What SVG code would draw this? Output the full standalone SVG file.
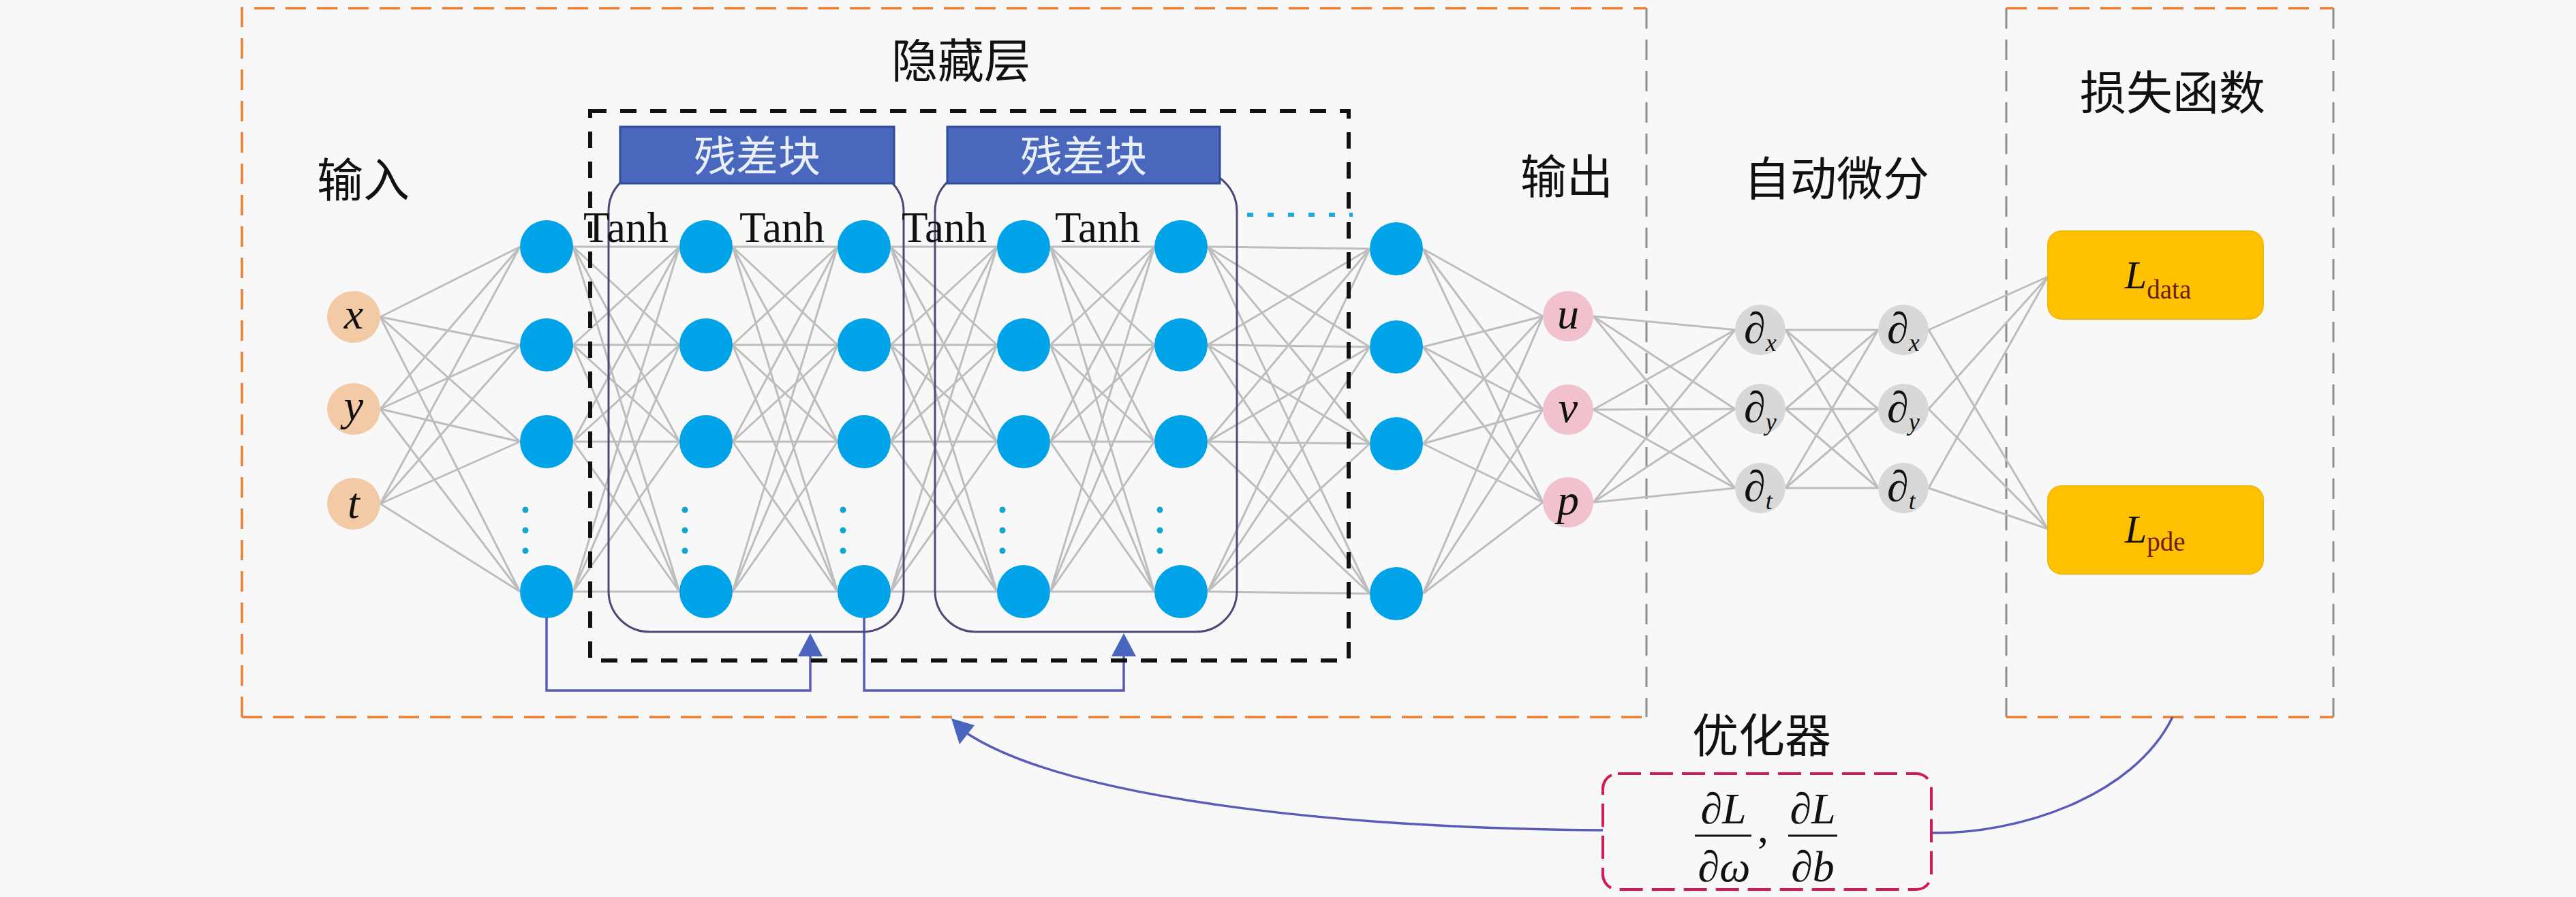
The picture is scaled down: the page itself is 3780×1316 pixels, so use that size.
<svg xmlns="http://www.w3.org/2000/svg" width="3780" height="1316" viewBox="0 0 3780 1316">
<defs>
<style>
.lnk{fill:none;stroke:#BDBDBD;stroke-width:3}
.hn{fill:#00A3E8}
.inn{fill:#F2CAA5}
.outn{fill:#F1C1CD}
.dn{fill:#D8D8D8}
.cjk{font-family:"Liberation Serif","Noto Sans CJK SC",serif;font-size:68px;fill:#111;text-anchor:middle}
.ser{font-family:"Liberation Serif",serif;fill:#111}
.it{font-style:italic}
.tanh{font-family:"Liberation Serif",serif;font-size:63px;fill:#111}
.var{font-family:"Liberation Serif",serif;font-style:italic;font-size:64px;fill:#111;text-anchor:middle}
.dot{fill:#12A6CC}
.skip{fill:none;stroke:#5A5AB8;stroke-width:3.5}
.ah{fill:#4A65BD}
.frame{fill:none;stroke:#4A4A78;stroke-width:3}
.rb{fill:#4A67BE;stroke:#2E4B9C;stroke-width:3}
.rbt{font-family:"Liberation Serif","Noto Sans CJK SC",serif;font-size:62px;fill:#EAF0FA;text-anchor:middle}
.lbox{fill:#FFC000;stroke:#F5B800;stroke-width:2}
.odash{fill:none;stroke:#ED7D31;stroke-width:3.5;stroke-dasharray:30 16}
.gdash{fill:none;stroke:#8E8E8E;stroke-width:3;stroke-dasharray:30 16}
</style>
</defs>
<rect x="0" y="0" width="3780" height="1316" fill="#F8F8F8"/>

<g id="regions">
<path class="odash" d="M355 1052V12H2416"/>
<path class="odash" d="M355 1052H2416"/>
<path class="gdash" d="M2416 12V1052"/>
<path class="odash" d="M2944 12H3424M2944 1052H3424"/>
<path class="gdash" d="M2944 12V1052M3424 12V1052"/>
</g>

<g id="connectors">
<path class="lnk" d="M558 465L763 362M558 465L763 506M558 465L763 648M558 465L763 868M558 600L763 362M558 600L763 506M558 600L763 648M558 600L763 868M558 739L763 362M558 739L763 506M558 739L763 648M558 739L763 868"/>
<path class="lnk" d="M841 362L997 362M841 362L997 506M841 362L997 648M841 362L997 868M841 506L997 362M841 506L997 506M841 506L997 648M841 506L997 868M841 648L997 362M841 648L997 506M841 648L997 648M841 648L997 868M841 868L997 362M841 868L997 506M841 868L997 648M841 868L997 868"/>
<path class="lnk" d="M1075 362L1229 362M1075 362L1229 506M1075 362L1229 648M1075 362L1229 868M1075 506L1229 362M1075 506L1229 506M1075 506L1229 648M1075 506L1229 868M1075 648L1229 362M1075 648L1229 506M1075 648L1229 648M1075 648L1229 868M1075 868L1229 362M1075 868L1229 506M1075 868L1229 648M1075 868L1229 868"/>
<path class="lnk" d="M1307 362L1463 362M1307 362L1463 506M1307 362L1463 648M1307 362L1463 868M1307 506L1463 362M1307 506L1463 506M1307 506L1463 648M1307 506L1463 868M1307 648L1463 362M1307 648L1463 506M1307 648L1463 648M1307 648L1463 868M1307 868L1463 362M1307 868L1463 506M1307 868L1463 648M1307 868L1463 868"/>
<path class="lnk" d="M1541 362L1694 362M1541 362L1694 506M1541 362L1694 648M1541 362L1694 868M1541 506L1694 362M1541 506L1694 506M1541 506L1694 648M1541 506L1694 868M1541 648L1694 362M1541 648L1694 506M1541 648L1694 648M1541 648L1694 868M1541 868L1694 362M1541 868L1694 506M1541 868L1694 648M1541 868L1694 868"/>
<path class="lnk" d="M1772 362L2010 365M1772 362L2010 509M1772 362L2010 651M1772 362L2010 871M1772 506L2010 365M1772 506L2010 509M1772 506L2010 651M1772 506L2010 871M1772 648L2010 365M1772 648L2010 509M1772 648L2010 651M1772 648L2010 871M1772 868L2010 365M1772 868L2010 509M1772 868L2010 651M1772 868L2010 871"/>
<path class="lnk" d="M2088 365L2264 464M2088 365L2264 601M2088 365L2264 737M2088 509L2264 464M2088 509L2264 601M2088 509L2264 737M2088 651L2264 464M2088 651L2264 601M2088 651L2264 737M2088 871L2264 464M2088 871L2264 601M2088 871L2264 737"/>
<path class="lnk" d="M2338 464L2546 484M2338 464L2546 600M2338 464L2546 716M2338 601L2546 484M2338 601L2546 600M2338 601L2546 716M2338 737L2546 484M2338 737L2546 600M2338 737L2546 716"/>
<path class="lnk" d="M2620 484L2756 484M2620 484L2756 600M2620 484L2756 716M2620 600L2756 484M2620 600L2756 600M2620 600L2756 716M2620 716L2756 484M2620 716L2756 600M2620 716L2756 716"/>
<path class="lnk" d="M2830 484L3005 406M2830 484L3005 776M2830 600L3005 406M2830 600L3005 776M2830 716L3005 406M2830 716L3005 776"/>
<path class="skip" d="M802 906V1013H1189V962"/>
<polygon class="ah" points="1171,963 1207,963 1189,929"/>
<path class="skip" d="M1268 906V1013H1649V962"/>
<polygon class="ah" points="1631,963 1667,963 1649,929"/>
<path class="skip" d="M2352 1218C1950 1215 1560 1170 1416 1074"/>
<polygon class="ah" points="1396,1054 1430,1064 1408,1092"/>
<path class="skip" d="M2834 1222C2960 1224 3130 1170 3188 1052"/>
</g>

<g id="hidden-layer">
<rect x="866" y="163" width="1113" height="806" fill="none" stroke="#111" stroke-width="6" stroke-dasharray="24 20"/>
<text class="cjk" x="1410" y="114">隐藏层</text>
<line x1="1830" y1="315" x2="1985" y2="315" stroke="#1BA8E0" stroke-width="6" stroke-dasharray="9 21"/>
</g>

<g id="res-block-1">
<rect class="frame" x="893" y="250" width="433" height="677" rx="60"/>
<rect class="rb" x="910" y="186" width="402" height="83"/>
<text class="rbt" x="1111" y="252">残差块</text>
</g>
<g id="res-block-2">
<rect class="frame" x="1372" y="250" width="443" height="677" rx="60"/>
<rect class="rb" x="1390" y="186" width="400" height="83"/>
<text class="rbt" x="1590" y="252">残差块</text>
</g>

<g id="inputs">
<text class="cjk" x="533" y="289">输入</text>
<g id="in-x"><ellipse class="inn" cx="519" cy="465" rx="39" ry="38"/><text class="var" x="519" y="482">x</text></g>
<g id="in-y"><ellipse class="inn" cx="519" cy="600" rx="39" ry="38"/><text class="var" x="519" y="616">y</text></g>
<g id="in-t"><ellipse class="inn" cx="519" cy="739" rx="39" ry="38"/><text class="var" x="519" y="760">t</text></g>
</g>

<g id="hidden-neurons">
<g id="h1"><circle class="hn" cx="802" cy="362" r="39"/><circle class="hn" cx="802" cy="506" r="39"/><circle class="hn" cx="802" cy="648" r="39"/><circle class="hn" cx="802" cy="868" r="39"/>
<circle class="dot" cx="771" cy="748" r="4.5"/><circle class="dot" cx="771" cy="778" r="4.5"/><circle class="dot" cx="771" cy="808" r="4.5"/></g>
<g id="h2"><circle class="hn" cx="1036" cy="362" r="39"/><circle class="hn" cx="1036" cy="506" r="39"/><circle class="hn" cx="1036" cy="648" r="39"/><circle class="hn" cx="1036" cy="868" r="39"/>
<circle class="dot" cx="1005" cy="748" r="4.5"/><circle class="dot" cx="1005" cy="778" r="4.5"/><circle class="dot" cx="1005" cy="808" r="4.5"/></g>
<g id="h3"><circle class="hn" cx="1268" cy="362" r="39"/><circle class="hn" cx="1268" cy="506" r="39"/><circle class="hn" cx="1268" cy="648" r="39"/><circle class="hn" cx="1268" cy="868" r="39"/>
<circle class="dot" cx="1237" cy="748" r="4.5"/><circle class="dot" cx="1237" cy="778" r="4.5"/><circle class="dot" cx="1237" cy="808" r="4.5"/></g>
<g id="h4"><circle class="hn" cx="1502" cy="362" r="39"/><circle class="hn" cx="1502" cy="506" r="39"/><circle class="hn" cx="1502" cy="648" r="39"/><circle class="hn" cx="1502" cy="868" r="39"/>
<circle class="dot" cx="1471" cy="748" r="4.5"/><circle class="dot" cx="1471" cy="778" r="4.5"/><circle class="dot" cx="1471" cy="808" r="4.5"/></g>
<g id="h5"><circle class="hn" cx="1733" cy="362" r="39"/><circle class="hn" cx="1733" cy="506" r="39"/><circle class="hn" cx="1733" cy="648" r="39"/><circle class="hn" cx="1733" cy="868" r="39"/>
<circle class="dot" cx="1702" cy="748" r="4.5"/><circle class="dot" cx="1702" cy="778" r="4.5"/><circle class="dot" cx="1702" cy="808" r="4.5"/></g>
<g id="h6"><circle class="hn" cx="2049" cy="365" r="39"/><circle class="hn" cx="2049" cy="509" r="39"/><circle class="hn" cx="2049" cy="651" r="39"/><circle class="hn" cx="2049" cy="871" r="39"/></g>
<text class="tanh" x="856" y="355">Tanh</text>
<text class="tanh" x="1085" y="355">Tanh</text>
<text class="tanh" x="1323" y="355">Tanh</text>
<text class="tanh" x="1548" y="355">Tanh</text>
</g>

<g id="outputs">
<text class="cjk" x="2299" y="284">输出</text>
<g id="out-u"><circle class="outn" cx="2301" cy="464" r="37"/><text class="var" x="2301" y="482">u</text></g>
<g id="out-v"><circle class="outn" cx="2301" cy="601" r="37"/><text class="var" x="2301" y="619">v</text></g>
<g id="out-p"><circle class="outn" cx="2301" cy="737" r="37"/><text class="var" x="2301" y="755">p</text></g>
</g>

<g id="autodiff">
<text class="cjk" x="2695" y="287">自动微分</text>
<g id="d1x"><circle class="dn" cx="2583" cy="484" r="37"/><text class="ser" x="2559" y="503" font-size="64">∂<tspan class="it" font-size="36" dy="12">x</tspan></text></g>
<g id="d1y"><circle class="dn" cx="2583" cy="600" r="37"/><text class="ser" x="2559" y="619" font-size="64">∂<tspan class="it" font-size="36" dy="12">y</tspan></text></g>
<g id="d1t"><circle class="dn" cx="2583" cy="716" r="37"/><text class="ser" x="2559" y="735" font-size="64">∂<tspan class="it" font-size="36" dy="12">t</tspan></text></g>
<g id="d2x"><circle class="dn" cx="2793" cy="484" r="37"/><text class="ser" x="2769" y="503" font-size="64">∂<tspan class="it" font-size="36" dy="12">x</tspan></text></g>
<g id="d2y"><circle class="dn" cx="2793" cy="600" r="37"/><text class="ser" x="2769" y="619" font-size="64">∂<tspan class="it" font-size="36" dy="12">y</tspan></text></g>
<g id="d2t"><circle class="dn" cx="2793" cy="716" r="37"/><text class="ser" x="2769" y="735" font-size="64">∂<tspan class="it" font-size="36" dy="12">t</tspan></text></g>
</g>

<g id="loss">
<text class="cjk" x="3188" y="161">损失函数</text>
<g id="L-data"><rect class="lbox" x="3005" y="339" width="316" height="129" rx="20"/>
<text class="ser it" x="3118" y="423" font-size="58">L<tspan font-style="normal" font-size="39" dy="15" fill="#6B1F0A">data</tspan></text></g>
<g id="L-pde"><rect class="lbox" x="3005" y="713" width="316" height="129" rx="20"/>
<text class="ser it" x="3118" y="796" font-size="58">L<tspan font-style="normal" font-size="39" dy="12" fill="#6B1F0A">pde</tspan></text></g>
</g>

<g id="optimizer">
<text class="cjk" x="2585" y="1104">优化器</text>
<rect x="2352" y="1135" width="482" height="170" rx="22" fill="none" stroke="#D01C50" stroke-width="4" stroke-dasharray="34 13"/>
<text class="var" x="2529" y="1208">∂L</text>
<line x1="2487" y1="1226" x2="2570" y2="1226" stroke="#111" stroke-width="3"/>
<text class="var" x="2530" y="1293">∂ω</text>
<text class="ser" x="2579" y="1236" font-size="64">,</text>
<text class="var" x="2660" y="1208">∂L</text>
<line x1="2624" y1="1226" x2="2696" y2="1226" stroke="#111" stroke-width="3"/>
<text class="var" x="2660" y="1293">∂b</text>
</g>
</svg>
